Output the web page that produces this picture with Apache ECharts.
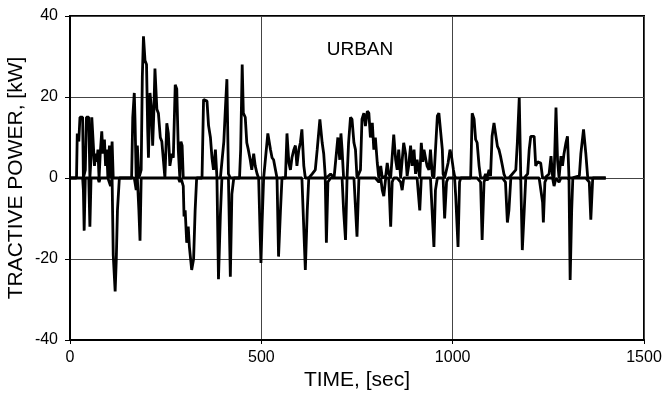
<!DOCTYPE html>
<html>
<head>
<meta charset="utf-8">
<script src="https://cdn.jsdelivr.net/npm/echarts@6/dist/echarts.min.js"></script>
<style>
  html, body { margin: 0; padding: 0; background: #fff; }
  #chart { width: 663px; height: 400px; }
</style>
</head>
<body>
<div id="chart"></div>
<script>
// time [s] and tractive power [kW]
const timeSec = [
  0, 17, 19, 23, 26, 33, 35, 37, 40, 43, 49, 52, 55, 57, 61, 64, 67, 70, 73, 75,
  76, 79, 83, 86, 90, 93, 96, 99, 103, 106, 110, 113, 118, 121, 124, 129, 161, 164, 168, 170,
  173, 176, 180, 183, 186, 189, 192, 196, 200, 203, 205, 209, 213, 216, 219, 222, 227, 231, 236, 240,
  248, 253, 257, 261, 266, 270, 275, 279, 283, 287, 290, 293, 296, 298, 301, 305, 309, 312, 318, 323,
  327, 331, 345, 349, 358, 362, 367, 371, 375, 380, 384, 388, 393, 397, 402, 406, 410, 414, 419, 423,
  428, 443, 446, 450, 453, 458, 462, 466, 471, 475, 480, 484, 489, 493, 497, 499, 502, 506, 510, 517,
  524, 528, 532, 537, 541, 545, 550, 554, 563, 567, 572, 576, 580, 585, 589, 593, 598, 602, 606, 611,
  615, 620, 624, 633, 641, 646, 653, 659, 663, 667, 670, 674, 681, 690, 696, 700, 705, 708, 711, 715,
  720, 724, 728, 733, 737, 742, 746, 750, 755, 759, 763, 768, 772, 777, 781, 785, 790, 794, 798, 803,
  807, 812, 816, 820, 825, 829, 833, 838, 842, 846, 851, 855, 859, 864, 868, 872, 877, 881, 885, 890,
  894, 899, 903, 907, 914, 918, 922, 925, 929, 933, 938, 942, 947, 951, 955, 960, 964, 968, 973, 975,
  979, 984, 988, 993, 997, 1002, 1005, 1008, 1014, 1018, 1021, 1047, 1051, 1056, 1060, 1064, 1069, 1073, 1077, 1082,
  1086, 1090, 1095, 1099, 1103, 1108, 1112, 1117, 1121, 1125, 1130, 1134, 1138, 1143, 1147, 1152, 1165, 1169, 1174, 1178,
  1182, 1187, 1191, 1196, 1200, 1204, 1209, 1213, 1217, 1222, 1226, 1230, 1235, 1237, 1241, 1246, 1252, 1257, 1261, 1265,
  1270, 1274, 1278, 1283, 1287, 1291, 1296, 1300, 1304, 1307, 1311, 1314, 1331, 1335, 1342, 1348, 1353, 1357, 1361, 1366,
  1400
];
const powerKw = [
  0, 0, 11, 9, 15, 15, -3, -13, 2, 15, 15, -12, 5, 15, 15, 3, 6, 4, 7, 2,
  -1, 6, 11.5, 6, 9.5, 3, 7, 0, 8, -2, 9, -19, -28, -20, -8, 0, 0, 15, 21, 14,
  -3, 8, -8, -15.5, 2, 25, 35, 29, 28, 12, 5, 21, 17, 8, 16, 27, 17, 16, 10, 9,
  0, 13.5, 11, 3, 6, 5, 23, 22, 7, -1, 9, 8, -2, -9.5, -8, -16, -12, -17, -22.7, -20,
  -8, 0, 0, 19.4, 19, 13, 10, 5, 2, 7, 0, -25, -9, 0, 9, 17, 24.4, 1, -24.4, -4,
  0, 0, 7, 28, 16, 15, 8.7, 7, 4.5, 2, 6, 3, 1, 0, -14.5, -21, -11, 0, 4, 11,
  7, 5, 4.5, 2, 0, -19.4, -8, 0, 0, 11, 3.7, 2, 5, 7, 8, 3, 7, 8.7, 12, 3,
  -22.7, -8, 0, 1, 2, 7, 14.5, 8.7, 6, 0.5, -16, -1, 1, 0, 6, 10, 4.5, 11, 7, -8,
  -15.3, 0, 8.7, 15, 14.5, 8.7, 7, -14.5, 0, 2, 14.5, 16, 12.8, 16.5, 16, 10, 13.6, 7, 10, 3.7,
  -1, 3, -3, -4.5, 0.5, 3.7, 1, -12, -1, 10.7, 4.5, 2, 7, -1, -3, 8.7, 6, 0.5, 3, 8,
  3, 7, 1, 4.5, -8, 8.7, 4, 7, 5, 3, 2, 7, 0.5, -17, -3, 15.3, 16, 16, 7, 1,
  -10, -1, 3.7, 7, 5.4, 2, 0.5, -4.5, -17, -1, 0, 0, 16, 14.5, 9.5, 8.7, 3, -1, -15.3, -1,
  1, -0.5, 2, 0.5, 10.3, 13.6, 11, 7.8, 7, 5.4, 3, 1, -1, -11, -8, 0, 2, 8.7, 19.8, -0.5,
  -17.8, -8, 0, 1, 7, 10.3, 10.3, 10.3, 3, 4, 3.7, 3.7, -6, -11, -1, 0.5, 1, 5.4, 0.5, -2,
  17.4, 4.5, -1, 5.4, 3, 6, 8.7, 10.3, -0.5, -25.2, -8, 0, 0.5, 6, 12, 6, 0, -1, -10.3, 0,
  0
];
const xTicks = { min: 0, max: 1500, interval: 500 };
const yTicks = { min: -40, max: 40, interval: 20 };

// plotted as tractive (>=0) and braking (<=0) parts, so the zero baseline is drawn along the run
const tractive = timeSec.map((t, i) => [t, Math.max(powerKw[i], 0)]);
const braking = timeSec.map((t, i) => [t, Math.min(powerKw[i], 0)]);

const chart = echarts.init(document.getElementById('chart'));
const font = 'Liberation Sans, Arial, sans-serif';

chart.setOption({
  animation: false,
  grid: {
    left: 70,
    right: 19,
    top: 16,
    bottom: 60,
    containLabel: false,
    outerBoundsMode: 'none',
    show: true,
    borderColor: '#000',
    borderWidth: 2
  },
  xAxis: {
    type: 'value',
    min: xTicks.min,
    max: xTicks.max,
    interval: xTicks.interval,
    name: 'TIME, [sec]',
    nameLocation: 'middle',
    nameGap: 30,
    nameMoveOverlap: false,
    nameTextStyle: { color: '#000', fontSize: 21, fontFamily: font },
    axisLine: { show: true, onZero: false, lineStyle: { color: '#000', width: 2 } },
    axisTick: { show: true, length: 4, lineStyle: { color: '#000' } },
    axisLabel: {
      color: '#000',
      fontSize: 16,
      fontFamily: font,
      margin: 10,
      formatter: v => String(v)
    },
    splitLine: { show: true, lineStyle: { color: '#444', width: 1 } }
  },
  yAxis: {
    type: 'value',
    min: yTicks.min,
    max: yTicks.max,
    interval: yTicks.interval,
    name: 'TRACTIVE POWER, [kW]',
    nameLocation: 'middle',
    nameGap: 43,
    nameMoveOverlap: false,
    nameTextStyle: { color: '#000', fontSize: 21, fontFamily: font },
    axisLine: { show: true, lineStyle: { color: '#000', width: 2 } },
    axisTick: { show: true, length: 5, lineStyle: { color: '#000' } },
    axisLabel: { color: '#000', fontSize: 16, fontFamily: font, margin: 12 },
    splitLine: { show: true, lineStyle: { color: '#444', width: 1 } }
  },
  graphic: [
    {
      type: 'text',
      x: 360,
      y: 50,
      style: {
        text: 'URBAN',
        fill: '#000',
        font: '19px ' + font,
        align: 'center',
        verticalAlign: 'middle'
      }
    }
  ],
  series: [
    {
      name: 'tractive',
      type: 'line',
      data: tractive,
      showSymbol: false,
      lineStyle: { color: '#000', width: 2.8 },
      z: 3
    },
    {
      name: 'braking',
      type: 'line',
      data: braking,
      showSymbol: false,
      lineStyle: { color: '#000', width: 2.8 },
      z: 3
    }
  ]
});

window.addEventListener('resize', () => chart.resize());
</script>
</body>
</html>
